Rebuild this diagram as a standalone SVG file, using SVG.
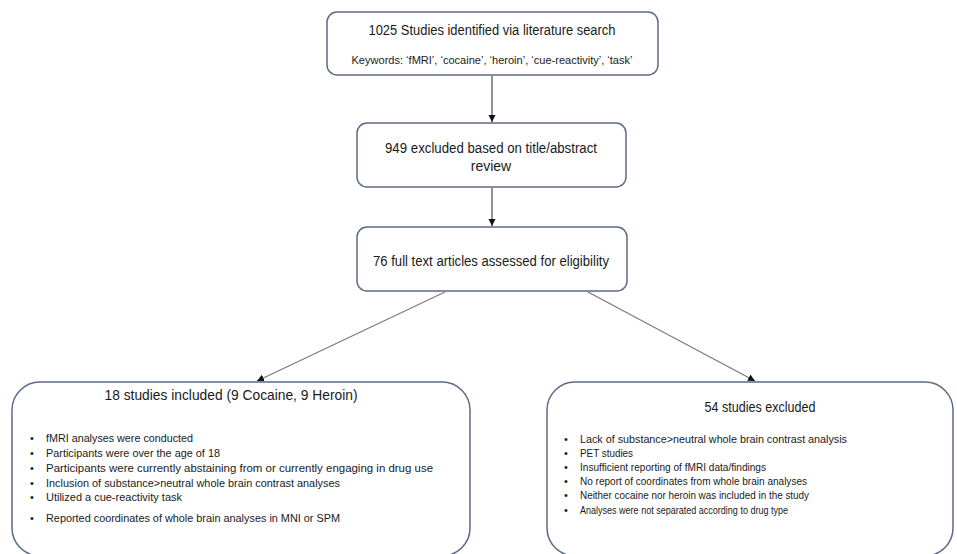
<svg xmlns="http://www.w3.org/2000/svg" width="957" height="554" viewBox="0 0 957 554">
<style>
.box{fill:#fff;stroke:#5b6b88;stroke-width:1.5}
.t{font-family:"Liberation Sans",Arial,sans-serif;fill:#1a1a1a}
.h{font-size:14px}
.s{font-size:11px}
.b{font-size:11px}
.c{stroke:#222;stroke-width:1;fill:none}
.d{stroke:#7a7a7a;stroke-width:1.2;fill:none}
</style>
<defs>
<marker id="ah" markerWidth="8" markerHeight="8" refX="7" refY="4" orient="auto" markerUnits="userSpaceOnUse">
<path d="M0,0.5 L7,4 L0,7.5 Z" fill="#111"/>
</marker>
</defs>
<rect width="957" height="554" fill="#fff"/>
<g id="connectors">
<line class="c" x1="492" y1="76" x2="492" y2="122" marker-end="url(#ah)"/>
<line class="c" x1="492" y1="188" x2="492" y2="226" marker-end="url(#ah)"/>
<line class="d" x1="445" y1="292" x2="257" y2="381" marker-end="url(#ah)"/>
<line class="d" x1="588" y1="292" x2="755" y2="381" marker-end="url(#ah)"/>
</g>
<g id="n1">
<rect class="box" x="327" y="12" width="331" height="63" rx="10"/>
<text class="t h" x="492" y="35" text-anchor="middle" textLength="247" lengthAdjust="spacingAndGlyphs">1025 Studies identified via literature search</text>
<text class="t s" x="492" y="64" text-anchor="middle" textLength="281" lengthAdjust="spacingAndGlyphs">Keywords: ‘fMRI’, ‘cocaine’, ‘heroin’, ‘cue-reactivity’, ‘task’</text>
</g>
<g id="n2">
<rect class="box" x="357" y="123" width="269" height="64" rx="10"/>
<text class="t h" x="491" y="153" text-anchor="middle" textLength="212" lengthAdjust="spacingAndGlyphs">949 excluded based on title/abstract</text>
<text class="t h" x="491" y="171" text-anchor="middle">review</text>
</g>
<g id="n3">
<rect class="box" x="357" y="227" width="270" height="64" rx="10"/>
<text class="t h" x="491" y="266" text-anchor="middle" textLength="236" lengthAdjust="spacingAndGlyphs">76 full text articles assessed for eligibility</text>
</g>
<g id="n4">
<rect class="box" x="12" y="382" width="458" height="174" rx="28"/>
<text class="t" style="font-size:15px" x="231" y="400" text-anchor="middle" textLength="253" lengthAdjust="spacingAndGlyphs">18 studies included (9 Cocaine, 9 Heroin)</text>
<g class="t b">
<text x="30" y="442">•</text><text x="46" y="442" textLength="147" lengthAdjust="spacingAndGlyphs">fMRI analyses were conducted</text>
<text x="30" y="457">•</text><text x="46" y="457" textLength="174" lengthAdjust="spacingAndGlyphs">Participants were over the age of 18</text>
<text x="30" y="472">•</text><text x="46" y="472" textLength="387" lengthAdjust="spacingAndGlyphs">Participants were currently abstaining from or currently engaging in drug use</text>
<text x="30" y="487">•</text><text x="46" y="487" textLength="294" lengthAdjust="spacingAndGlyphs">Inclusion of substance&gt;neutral whole brain contrast analyses</text>
<text x="30" y="501">•</text><text x="46" y="501" textLength="136" lengthAdjust="spacingAndGlyphs">Utilized a cue-reactivity task</text>
<text x="30" y="522">•</text><text x="46" y="522" textLength="294" lengthAdjust="spacingAndGlyphs">Reported coordinates of whole brain analyses in MNI or SPM</text>
</g>
</g>
<g id="n5">
<rect class="box" x="547" y="382" width="406" height="174" rx="28"/>
<text class="t" style="font-size:14px" x="760" y="412" text-anchor="middle" textLength="111" lengthAdjust="spacingAndGlyphs">54 studies excluded</text>
<g class="t b">
<text x="564" y="443">•</text><text x="580" y="443" textLength="267" lengthAdjust="spacingAndGlyphs">Lack of substance&gt;neutral whole brain contrast analysis</text>
<text x="564" y="457">•</text><text x="580" y="457" textLength="53" lengthAdjust="spacingAndGlyphs">PET studies</text>
<text x="564" y="471">•</text><text x="580" y="471" textLength="186" lengthAdjust="spacingAndGlyphs">Insufficient reporting of fMRI data/findings</text>
<text x="564" y="485">•</text><text x="580" y="485" textLength="227" lengthAdjust="spacingAndGlyphs">No report of coordinates from whole brain analyses</text>
<text x="564" y="499">•</text><text x="580" y="499" textLength="229" lengthAdjust="spacingAndGlyphs">Neither cocaine nor heroin was included in the study</text>
<text x="564" y="514">•</text><text x="580" y="514" textLength="208" lengthAdjust="spacingAndGlyphs">Analyses were not separated according to drug type</text>
</g>
</g>
</svg>
